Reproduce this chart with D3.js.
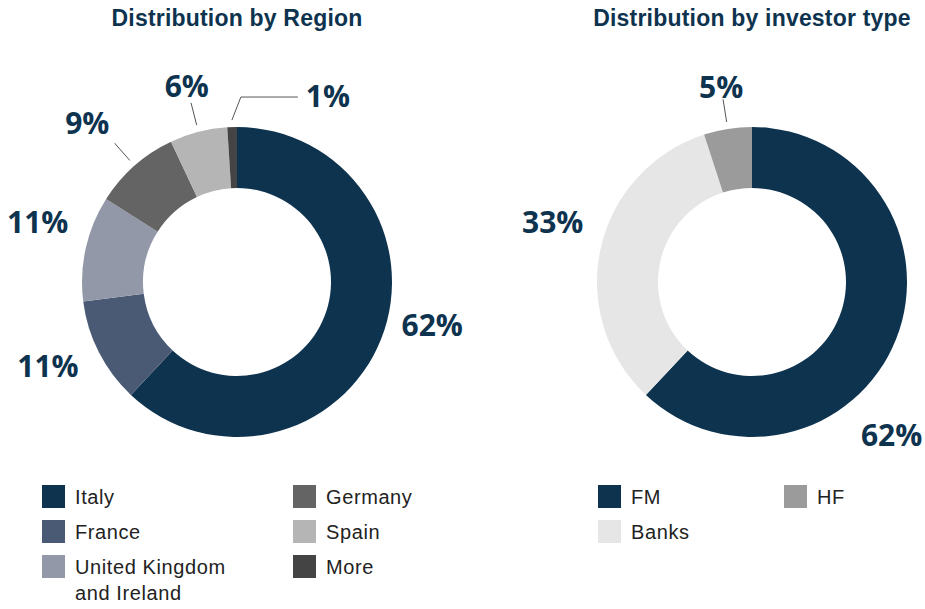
<!DOCTYPE html>
<html>
<head>
<meta charset="utf-8">
<script src="https://cdn.jsdelivr.net/npm/d3@7"></script>
<style>
  body { margin: 0; background: #fff; }
  svg { display: block; }
</style>
</head>
<body>
<div id="chart"></div>
<script>
// data
var regionNames = ["Italy", "France", "United Kingdom and Ireland", "Germany", "Spain", "More"];
var regionValues = [62, 11, 11, 9, 6, 1];
var investorNames = ["FM", "Banks", "HF"];
var investorValues = [62, 33, 5];

var regionColors = ["#0e334f", "#4b5a74", "#9298a7", "#646464", "#b5b5b5", "#444444"];
var investorColors = ["#0e334f", "#e6e6e6", "#9b9b9b"];

var width = 925, height = 609;
var navy = "#0e334f";

var svg = d3.select("#chart").append("svg")
    .attr("width", width)
    .attr("height", height);

/**
 * draw one donut with its title, labels and leader lines
 */
var drawDonut = function(opts){
    var g = svg.append("g").attr("transform", "translate(" + opts.cx + "," + opts.cy + ")");

    svg.append("text")
        .attr("x", opts.cx).attr("y", 26)
        .attr("text-anchor", "middle")
        .style("font-family", "'Liberation Sans', Arial, sans-serif")
        .style("font-weight", "bold")
        .style("font-size", "23px")
        .style("letter-spacing", "0.2px")
        .style("fill", navy)
        .text(opts.title);

    var pie = d3.pie().sort(null).value(function(d){ return d.v; });
    var arc = d3.arc().innerRadius(94).outerRadius(155);
    var arcs = pie(opts.names.map(function(n, i){ return {n: n, v: opts.values[i], c: opts.colors[i], i: i}; }));

    g.selectAll("path").data(arcs).enter().append("path")
        .attr("d", arc)
        .style("fill", function(d){ return d.data.c; });

    var pt = function(a, r){ return [Math.sin(a) * r, -Math.cos(a) * r]; };
    var rad = Math.PI / 180;

    arcs.forEach(function(d){
        var lab = opts.labels[d.data.i] || {};
        var mid = (d.startAngle + d.endAngle) / 2;
        var p = pt(mid + (lab.da || 0) * rad, lab.r || 205);
        var anchor = "middle";

        if (lab.leader) {
            var a = pt(mid, 162), b = pt(mid + (lab.lda || 0) * rad, 185);
            var line = [a, b];
            if (lab.elbow) {
                line.push([b[0] + lab.elbow, b[1]]);
                p = [b[0] + lab.elbow + 8, b[1] - 1];
                anchor = "start";
            }
            g.append("path")
                .attr("d", d3.line()(line))
                .style("fill", "none")
                .style("stroke", "#555")
                .style("stroke-width", 1);
        }

        g.append("text")
            .attr("x", p[0]).attr("y", p[1])
            .attr("dy", "0.36em")
            .attr("text-anchor", anchor)
            .style("font-family", "'Open Sans', 'Noto Sans', sans-serif")
            .style("font-weight", "bold")
            .style("font-size", "30px")
            .style("fill", navy)
            .text(d.data.v + "%");
    });

    // legend
    var leg = svg.append("g");
    opts.names.forEach(function(n, i){
        var col = Math.floor(i / opts.perCol), row = i % opts.perCol;
        var x = opts.legendX + col * opts.colGap, y = 485 + row * 35;
        leg.append("rect")
            .attr("x", x).attr("y", y)
            .attr("width", 23).attr("height", 23)
            .style("fill", opts.colors[i]);
        var t = leg.append("text")
            .attr("x", x + 33).attr("y", y + 19)
            .style("font-family", "'Liberation Sans', Arial, sans-serif")
            .style("font-size", "20px")
            .style("letter-spacing", "0.6px")
            .style("fill", "#222");
        var words = n === "United Kingdom and Ireland" ? ["United Kingdom", "and Ireland"] : [n];
        words.forEach(function(w, k){
            t.append("tspan").attr("x", x + 33).attr("dy", k ? 26 : 0).text(w);
        });
    });
};

drawDonut({
    cx: 237, cy: 282, title: "Distribution by Region",
    names: regionNames, values: regionValues, colors: regionColors,
    labels: [{da: -9, r: 200}, {da: 3, r: 207}, {da: 4, r: 208}, {leader: true, r: 218, da: -2}, {leader: true, r: 202}, {leader: true, lda: 3, elbow: 57}],
    legendX: 42, colGap: 251, perCol: 3
});

drawDonut({
    cx: 752, cy: 282, title: "Distribution by investor type",
    names: investorNames, values: investorValues, colors: investorColors,
    labels: [{da: 26, r: 207}, {da: 4, r: 208}, {leader: true, r: 197}],
    legendX: 598, colGap: 186, perCol: 2
});
</script>
</body>
</html>
